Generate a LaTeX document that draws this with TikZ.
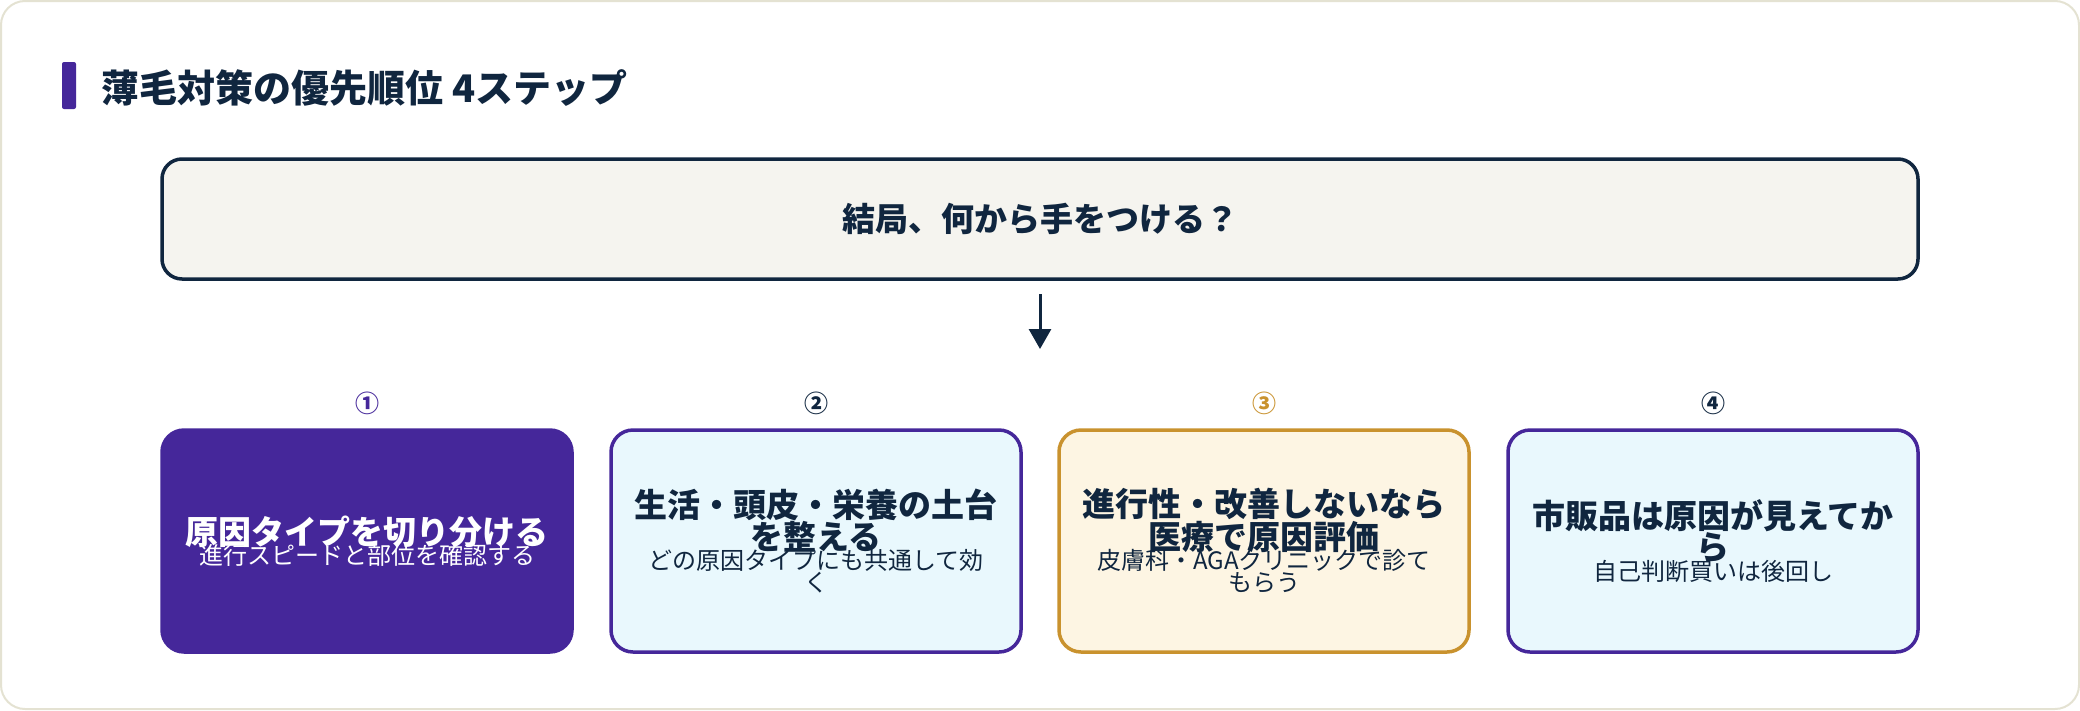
\documentclass[tikz,border=0pt]{standalone}
\usepackage{fontspec}
\setmainfont{Noto Sans CJK JP}
\usetikzlibrary{positioning,arrows.meta}
\definecolor{navy}{HTML}{10263F}
\definecolor{purp}{HTML}{45279A}
\definecolor{skyfill}{HTML}{E9F8FD}
\definecolor{creamfill}{HTML}{FDF5E3}
\definecolor{gold}{HTML}{C9922E}
\definecolor{greyfill}{HTML}{F5F4EF}
\definecolor{frame}{HTML}{E4E2D2}
\newcommand{\headfont}{\bfseries\fontsize{33}{46}\selectfont}
\newcommand{\subfont}{\mdseries\fontsize{24}{38}\selectfont}
\tikzset{
  stepbox/.style={rounded corners=22pt, line width=3.5pt, minimum width=410pt,
    minimum height=222pt, align=center, text=navy},
  num/.style={font=\bfseries\fontsize{24}{28}\selectfont}
}
\begin{document}
\begin{tikzpicture}[x=1pt,y=-1pt]
\useasboundingbox (0,0) rectangle (2080,710);
\draw[frame, line width=2pt, fill=white, rounded corners=24pt] (1,1) rectangle (2079,709);
\fill[purp, rounded corners=2pt] (62,62) rectangle (76,109);
\node[anchor=west, text=navy, font=\bfseries\fontsize{38}{44}\selectfont] (title) at (98,88) {薄毛対策の優先順位 4ステップ};
\node[draw=navy, fill=greyfill, line width=3.5pt, rounded corners=20pt, minimum width=1756pt, minimum height=120pt, text=navy, font=\bfseries\fontsize{33}{40}\selectfont] (q) at (1040,219) {結局、何から手をつける？};
\coordinate (arr) at (1040,349);
\draw[navy, line width=3pt, -{Triangle[length=20pt,width=22pt]}] (1040,294) -- (arr);
\node[stepbox, fill=purp, draw=purp, text=white] (s1) at (367,541) {\headfont 原因タイプを切り分ける\\[-4pt]\subfont 進行スピードと部位を確認する};
\node[stepbox, fill=skyfill, draw=purp] (s2) at (816,541) {\headfont 生活・頭皮・栄養の土台\\\headfont を整える\\[-4pt]\subfont どの原因タイプにも共通して効\\\subfont く};
\node[stepbox, fill=creamfill, draw=gold] (s3) at (1264,541) {\headfont 進行性・改善しないなら\\\headfont 医療で原因評価\\[-4pt]\subfont 皮膚科・AGAクリニックで診て\\\subfont もらう};
\node[stepbox, fill=skyfill, draw=purp] (s4) at (1713,541) {\headfont 市販品は原因が見えてか\\\headfont ら\\[-4pt]\subfont 自己判断買いは後回し};
\node[num, text=purp, above=10pt of s1] (n1) {①};
\node[num, text=navy, above=10pt of s2] (n2) {②};
\node[num, text=gold, above=10pt of s3] (n3) {③};
\node[num, text=navy, above=10pt of s4] (n4) {④};
\end{tikzpicture}
\end{document}
